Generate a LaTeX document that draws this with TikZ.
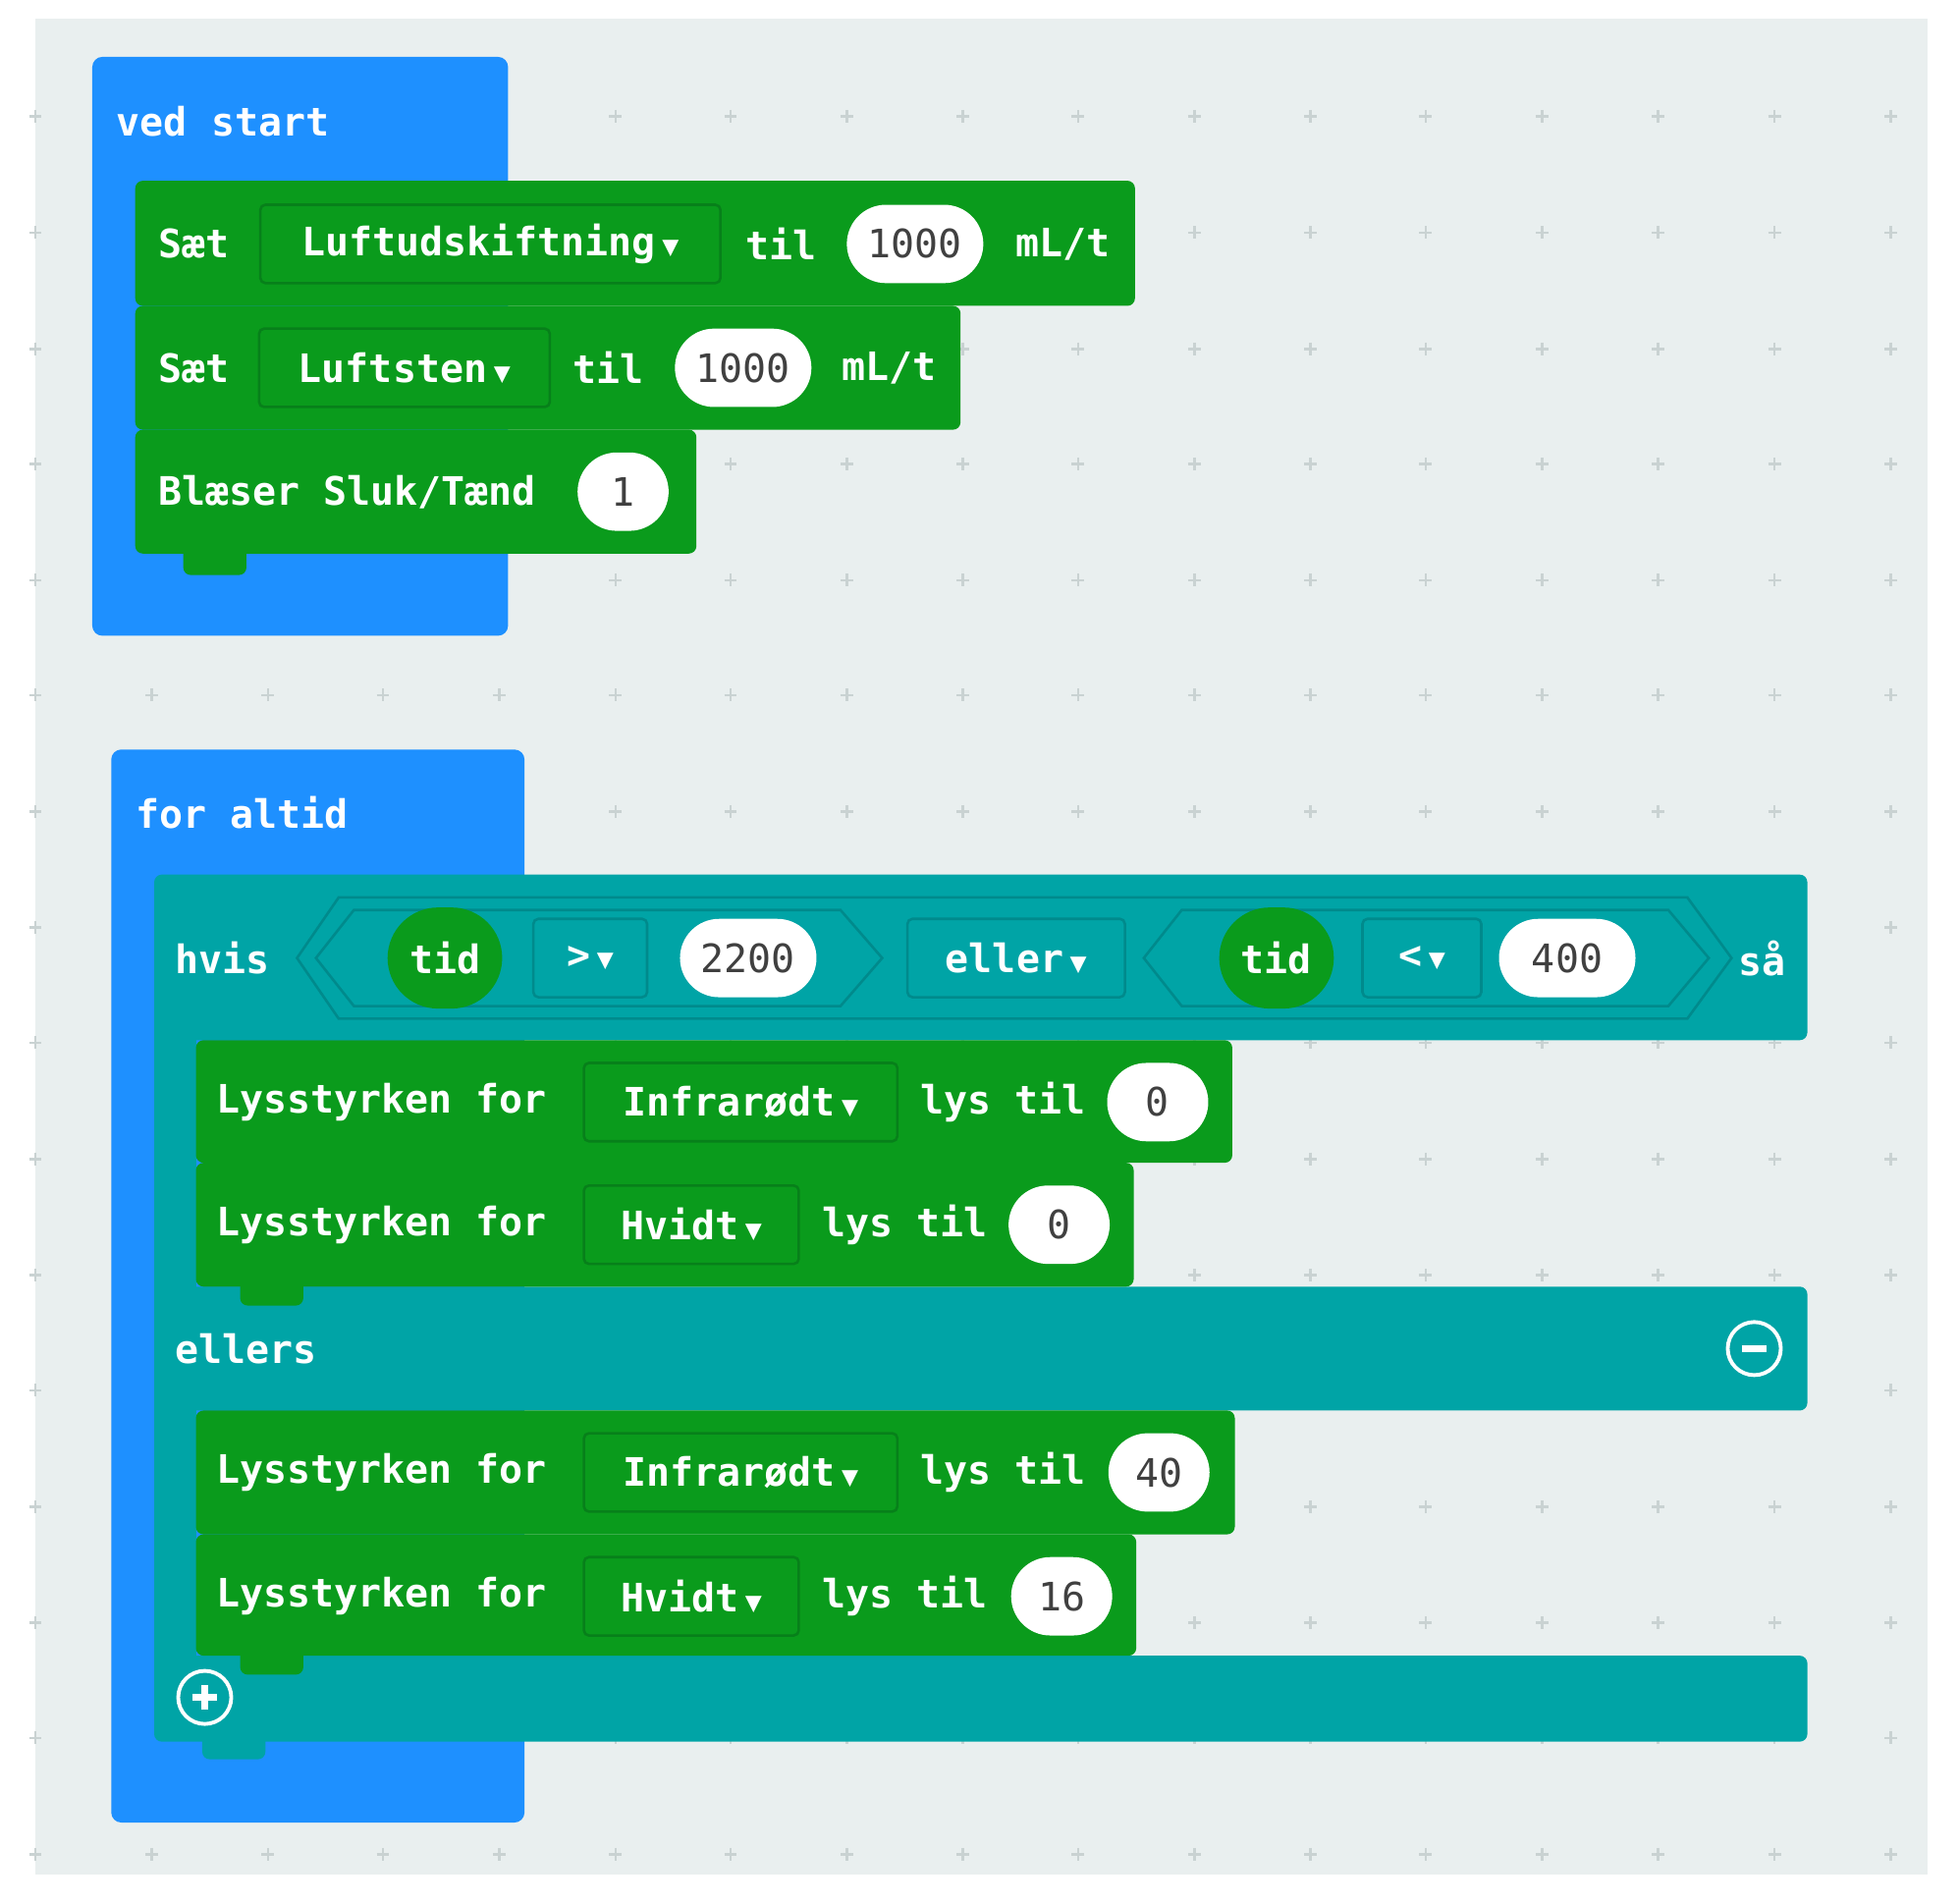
\documentclass[tikz,border=0pt]{standalone}
\usepackage{fontspec}
\setmainfont{DejaVu Sans Mono}
\usetikzlibrary{positioning,shapes.misc}
\definecolor{bg}{HTML}{E9EFEF}
\definecolor{mblue}{HTML}{1E90FF}
\definecolor{mgreen}{HTML}{0A9B1C}
\definecolor{dgreen}{HTML}{07801A}
\definecolor{mteal}{HTML}{00A4A6}
\definecolor{dteal}{HTML}{008A8C}
\definecolor{plus}{HTML}{C9D2D2}
\newcommand{\dd}{\,{\fontsize{11}{11}\selectfont▼}}
\tikzset{
  txt/.style={text=white,font=\bfseries\fontsize{15.5}{15}\selectfont,anchor=west,inner sep=0pt},
  num/.style={fill=white,rounded rectangle,minimum height=31pt,minimum width=58pt,
    font=\fontsize{15.5}{15}\selectfont,text=black!75,inner sep=2pt},
  drop/.style={draw=dgreen,line width=1pt,rounded corners=2pt,minimum height=31pt,
    text=white,font=\bfseries\fontsize{15.5}{15}\selectfont,inner sep=4pt},
  tdrop/.style={drop,draw=dteal},
  var/.style={fill=mgreen,rounded rectangle,minimum height=40pt,minimum width=52pt,
    text=white,font=\bfseries\fontsize{15.5}{15}\selectfont},
  tab/.style={fill=#1,rounded corners=3pt}
}
\begin{document}
\begin{tikzpicture}[x=0.5pt,y=-0.5pt]
  \useasboundingbox (0,0) rectangle (1550,1506);
  \fill[bg] (28,15) rectangle (1525,1483);
  % grid
  \foreach \x in {28,120,212,303,395,487,578,670,762,853,945,1037,1128,1220,1312,1404,1496}
  {\foreach \y in {92,184,276,367,459,550,642,734,825,917,1009,1100,1192,1284,1375,1467}
  \draw[plus,line width=1pt] (\x-5,\y) -- (\x+5,\y) (\x,\y-5) -- (\x,\y+5);
  };
  % ved start
  \fill[mblue,rounded corners=4pt] (73,45) rectangle (402,503);
  \node[txt] (vedstart) at (92,96) {ved start};
  \fill[mgreen,rounded corners=3pt] (107,143) rectangle (898,242);
  \fill[mgreen,rounded corners=3pt] (107,242) rectangle (760,340);
  \fill[mgreen,rounded corners=3pt] (107,340) rectangle (551,438);
  \fill[tab=mgreen] (145,430) rectangle (195,455);
  \node[txt] (saet1) at (125,193) {Sæt};
  \node[drop,minimum width=182pt] (luftud) at (388,193) {Luftudskiftning\dd};
  \node[txt] (til1) at (590,193) {til};
  \node[num] (v1) at (724,193) {1000};
  \node[txt] (unit1) at (803,193) {mL/t};
  \node[txt] (saet2) at (125,291) {Sæt};
  \node[drop,minimum width=115pt] (luftst) at (320,291) {Luftsten\dd};
  \node[txt] (til2) at (453,291) {til};
  \node[num] (v2) at (588,291) {1000};
  \node[txt] (unit2) at (666,291) {mL/t};
  \node[txt] (blaeser) at (125,389) {Blæser Sluk/Tænd};
  \node[num,minimum width=40pt] (v3) at (493,389) {1};
  % for altid
  \fill[mblue,rounded corners=4pt] (88,593) rectangle (415,1442);
  \node[txt] (foraltid) at (107,643) {for altid};
  \fill[mteal,rounded corners=3pt] (122,692) rectangle (1430,823);
  \fill[mteal] (122,800) rectangle (155,1330);
  \fill[mteal,rounded corners=3pt] (122,1018) rectangle (1430,1116);
  \fill[mteal,rounded corners=3pt] (122,1310) rectangle (1430,1378);
  \fill[tab=mteal] (160,1370) rectangle (210,1392);
  \node[txt] (hvis) at (138,758) {hvis};
  \draw[dteal,line width=1pt] (235,758) -- (268,710) -- (1335,710) -- (1370,758) -- (1335,806) -- (268,806) -- cycle;
  \draw[dteal,line width=1pt] (250,758) -- (280,720) -- (665,720) -- (698,758) -- (665,796) -- (280,796) -- cycle;
  \draw[dteal,line width=1pt] (905,758) -- (935,720) -- (1320,720) -- (1352,758) -- (1320,796) -- (935,796) -- cycle;
  \node[var] (tid1) at (352,758) {tid};
  \node[tdrop,minimum width=45pt] (gt) at (467,758) {>\dd};
  \node[num] (v2200) at (592,758) {2200};
  \node[tdrop,minimum width=86pt] (eller) at (804,758) {eller\dd};
  \node[var] (tid2) at (1010,758) {tid};
  \node[tdrop,minimum width=47pt] (lt) at (1125,758) {<\dd};
  \node[num] (v400) at (1240,758) {400};
  \node[txt] (saa) at (1375,758) {så};
  % rows
  \foreach \ya/\yb/\xr in {823/920/975,920/1018/897,1116/1214/977,1214/1310/899}
  \fill[mgreen,rounded corners=3pt] (155,\ya) rectangle (\xr,\yb);
  \fill[tab=mgreen] (190,1010) rectangle (240,1033);
  \fill[tab=mgreen] (190,1302) rectangle (240,1325);
  \node[txt] (ly1) at (171,872) {Lysstyrken for};
  \node[drop,minimum width=124pt] (ir1) at (586,872) {Infrarødt\dd};
  \node[txt] (lt1) at (728,872) {lys til};
  \node[num,minimum width=44pt] (n1) at (916,872) {0};
  \node[txt] (ly2) at (171,969) {Lysstyrken for};
  \node[drop,minimum width=85pt] (hv1) at (547,969) {Hvidt\dd};
  \node[txt] (lt2) at (650,969) {lys til};
  \node[num,minimum width=44pt] (n2) at (838,969) {0};
  \node[txt] (ellers) at (138,1067) {ellers};
  \node[draw=white,circle,line width=1.5pt,minimum size=21pt,inner sep=0pt] (minus) at (1388,1067) {};
  \draw[white,line width=2.5pt] ([xshift=-5pt]minus.center) -- ([xshift=5pt]minus.center);
  \node[txt] (ly3) at (171,1165) {Lysstyrken for};
  \node[drop,minimum width=124pt] (ir2) at (586,1165) {Infrarødt\dd};
  \node[txt] (lt3) at (728,1165) {lys til};
  \node[num,minimum width=44pt] (n3) at (917,1165) {40};
  \node[txt] (ly4) at (171,1263) {Lysstyrken for};
  \node[drop,minimum width=85pt] (hv2) at (547,1263) {Hvidt\dd};
  \node[txt] (lt4) at (650,1263) {lys til};
  \node[num,minimum width=44pt] (n4) at (840,1263) {16};
  \node[draw=white,circle,line width=1.5pt,minimum size=21pt,inner sep=0pt] (plusb) at (162,1343) {};
  \draw[white,line width=2.5pt] ([xshift=-5pt]plusb.center) -- ([xshift=5pt]plusb.center)
    ([yshift=-5pt]plusb.center) -- ([yshift=5pt]plusb.center);
\end{tikzpicture}
\end{document}
